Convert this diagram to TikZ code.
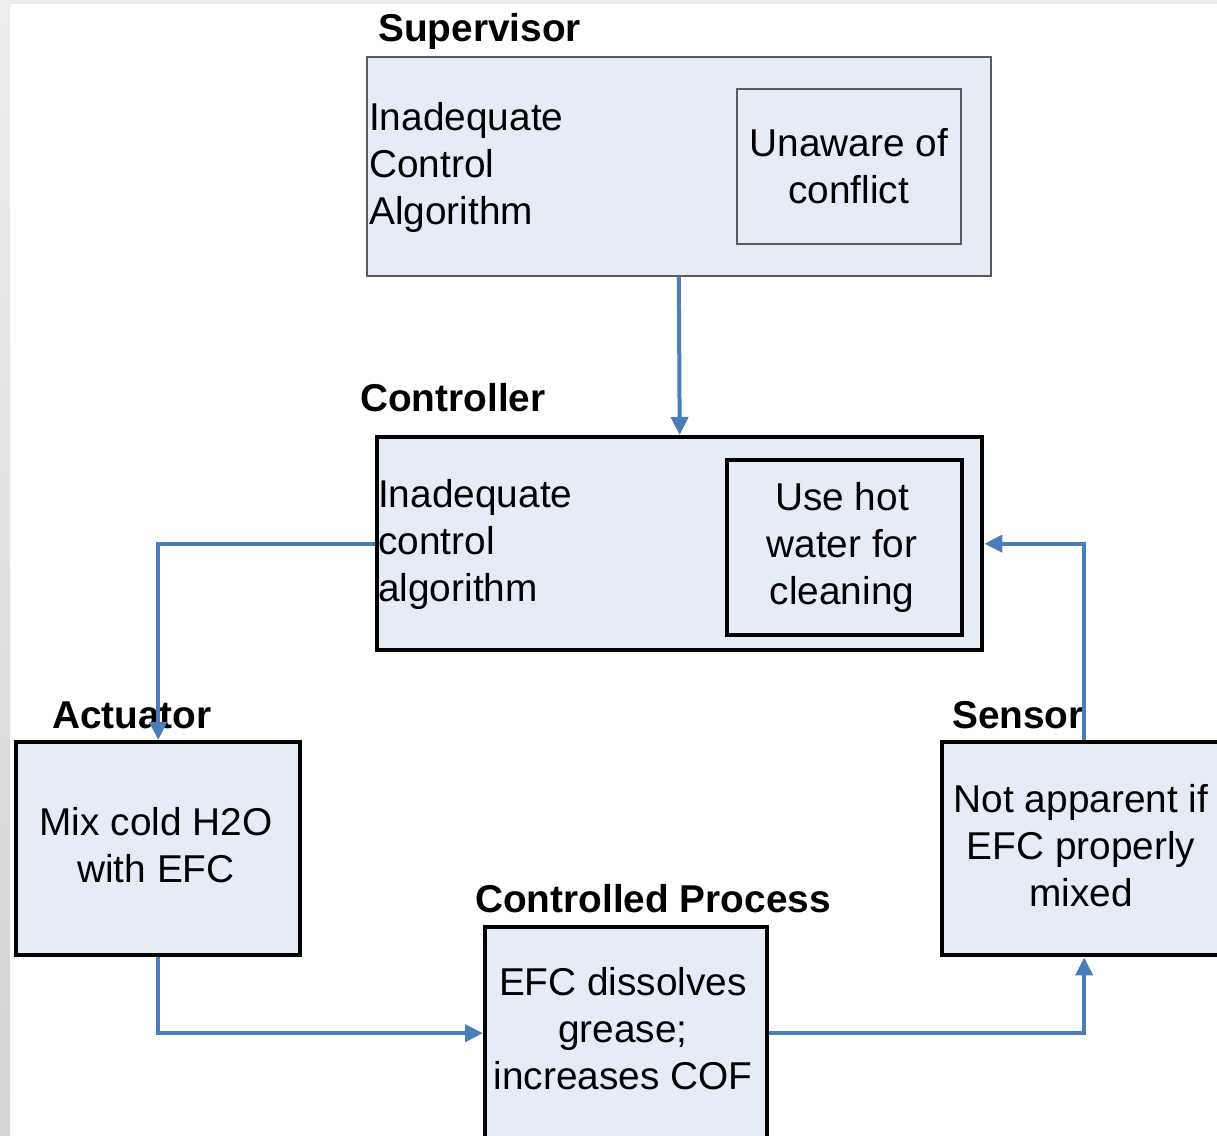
\documentclass[tikz,border=0pt]{standalone}
\usepackage{fontspec}
\setmainfont{Liberation Sans}
\usetikzlibrary{arrows.meta,positioning}

\definecolor{boxfill}{RGB}{230,236,246}
\definecolor{flowblue}{RGB}{74,126,187}
\definecolor{edgegray}{RGB}{90,90,90}

\begin{document}
\begin{tikzpicture}[x=1pt,y=-1pt,
   thinbox/.style={draw=edgegray,line width=1.6pt,fill=boxfill,anchor=north west,inner sep=0pt},
   thickbox/.style={draw=black,line width=4.4pt,fill=boxfill,anchor=north west,inner sep=0pt},
   body/.style={font=\fontsize{38.8}{47}\selectfont,inner sep=0pt},
   title/.style={font=\fontsize{38.8}{47}\selectfont\bfseries,anchor=base west,inner sep=0pt},
   flow/.style={draw=flowblue,line width=4pt,-{Triangle[length=18pt,width=17pt]}}]
      \useasboundingbox (0,0) rectangle (1217,1135);
      \clip (0,0) rectangle (1217,1135);
      \fill[white] (0,0) rectangle (1217,1135);
      \fill[color=black!8] (0,0) rectangle (1217,4);
      \shade[top color=black!7,bottom color=black!17] (0,0) rectangle (10,1135);

      \node[title] (suptitle) at (378,41) {Supervisor};
      \node[thinbox,minimum width=624pt,minimum height=219pt] (sup) at (366,56) {};
      \node[body,align=left,anchor=west] (suptext) at (369,167) {Inadequate\\Control\\Algorithm};
      \node[thinbox,minimum width=224pt,minimum height=155pt] (unaware) at (736,88) {};
      \node[body,align=center] (unawaretext) at (unaware.center) {Unaware of\\conflict};

      \node[title] (ctltitle) at (360,411) {Controller};
      \node[thickbox,minimum width=605pt,minimum height=213pt] (ctl) at (375,435) {};
      \node[body,align=left,anchor=west] (ctltext) at (378,544) {Inadequate\\control\\algorithm};
      \node[thickbox,minimum width=235pt,minimum height=175pt] (hot) at (725,458) {};
      \node[body,align=center] (hottext) at (842,547) {Use hot\\water for\\cleaning};

      \node[title] (acttitle) at (52,728) {Actuator};
      \node[thickbox,minimum width=284pt,minimum height=213pt] (act) at (14,740) {};
      \node[body,align=center] (acttext) at (156,845) {Mix cold H2O\\with EFC};

      \node[title] (sentitle) at (952,728) {Sensor};
      \node[thickbox,minimum width=284pt,minimum height=213pt] (sen) at (940,740) {};
      \node[body,align=center] (sentext) at (1081,846) {Not apparent if\\EFC properly\\mixed};

      \node[title] (proctitle) at (475,912) {Controlled Process};
      \node[thickbox,minimum width=282pt,minimum height=212pt] (proc) at (483,925) {};
      \node[body,align=center] (proctext) at (623,1029) {EFC dissolves\\grease;\\increases COF};

      \draw[flow] (sup.south) -- (ctl.north);
      \draw[flow] (ctl.west) -| (act.north);
      \draw[flow] (act.south) |- (proc.west);
      \draw[flow] (proc.east) -| (sen.south);
      \draw[flow] (sen.north) |- (ctl.east);
\end{tikzpicture}
\end{document}
